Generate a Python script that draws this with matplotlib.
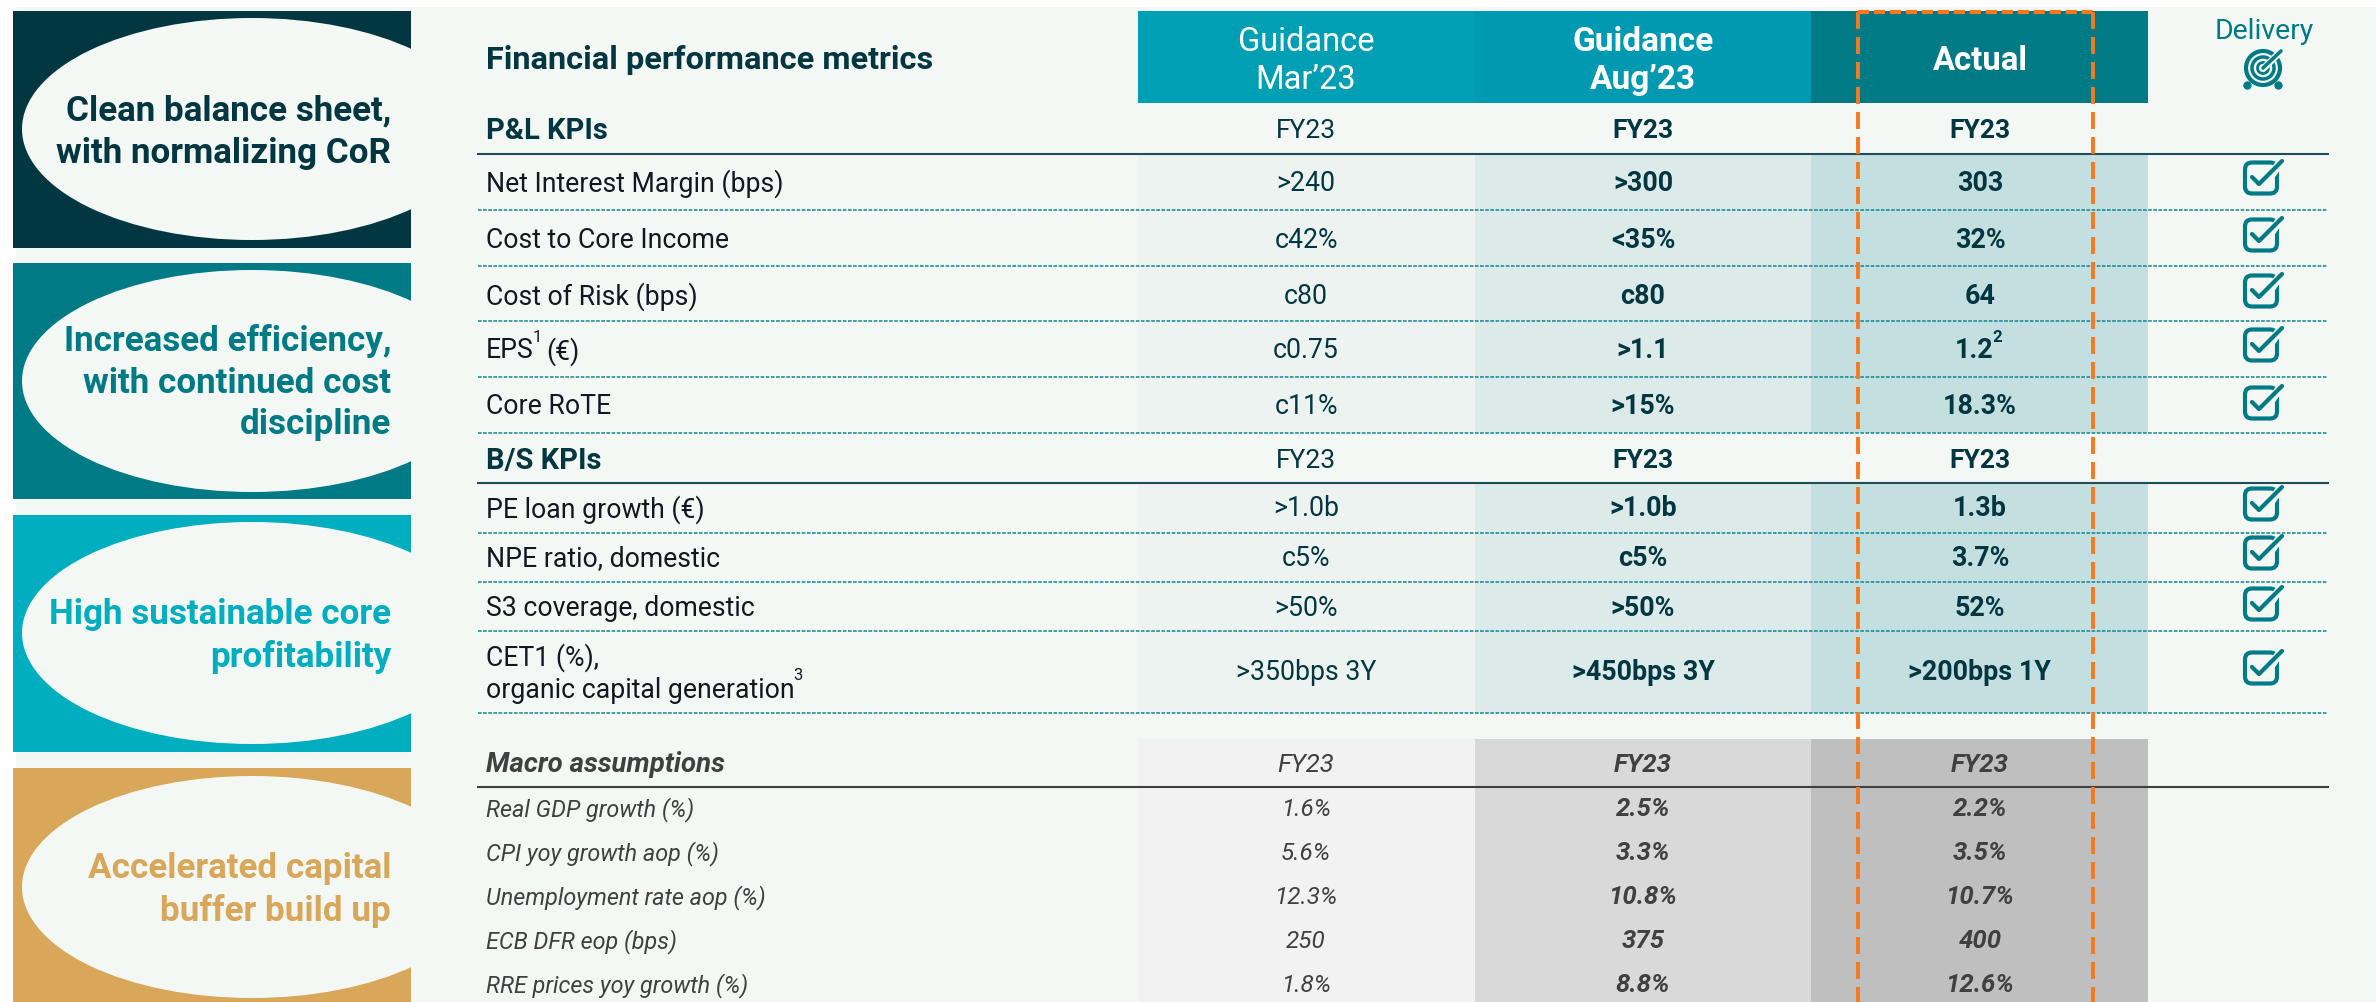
import matplotlib
matplotlib.use("Agg")
import matplotlib.pyplot as plt
from matplotlib.patches import Rectangle, Ellipse, FancyBboxPatch, Circle

plt.rcParams["font.family"] = ["Roboto", "DejaVu Sans"]
plt.rcParams["lines.scale_dashes"] = False

# Left hand panels
panel_titles = [
    ["Clean balance sheet,", "with normalizing CoR"],
    ["Increased efficiency,", "with continued cost", "discipline"],
    ["High sustainable core", "profitability"],
    ["Accelerated capital", "buffer build up"],
]
panel_colors = ["#023641", "#007A85", "#00AEBF", "#D9A75A"]
panel_top = [11, 263, 515, 768]
panel_bottom = [248, 499, 752, 1002]
ellipse_y = [129, 381, 633, 887]
title_y = [[107, 150], [338, 380, 421], [611, 653], [865, 907]]

# KPI table
kpi_labels = ["Net Interest Margin (bps)", "Cost to Core Income", "Cost of Risk (bps)", "EPS", "Core RoTE",
              "PE loan growth (€)", "NPE ratio, domestic", "S3 coverage, domestic"]
kpi_mar = [">240", "c42%", "c80", "c0.75", "c11%", ">1.0b", "c5%", ">50%", ">350bps 3Y"]
kpi_aug = [">300", "<35%", "c80", ">1.1", ">15%", ">1.0b", "c5%", ">50%", ">450bps 3Y"]
kpi_act = ["303", "32%", "64", "1.2", "18.3%", "1.3b", "3.7%", "52%", ">200bps 1Y"]
kpi_y = [180, 237, 293, 348, 404, 506, 556, 605, 669]
check_y = [178, 235, 291, 345, 403, 504, 553, 604, 668]

# Macro table
macro_labels = ["Real GDP growth (%)", "CPI yoy growth aop (%)", "Unemployment rate aop (%)",
                "ECB DFR eop (bps)", "RRE prices yoy growth (%)"]
macro_mar = ["1.6%", "5.6%", "12.3%", "250", "1.8%"]
macro_aug = ["2.5%", "3.3%", "10.8%", "375", "8.8%"]
macro_act = ["2.2%", "3.5%", "10.7%", "400", "12.6%"]
macro_y = [807, 851, 895, 939, 983]

dark = "#023641"
teal = "#007A85"
grey = "#404040"
label_col = "#101820"
bg = "#F4F8F5"
x_mar, x_aug, x_act = 1306, 1643, 1980
edges = [1138, 1475, 1811, 2148]

fig = plt.figure(figsize=(23.76, 10.02), dpi=100)
ax = fig.add_axes([0, 0, 1, 1])
ax.set_xlim(0, 2376)
ax.set_ylim(1002, 0)
ax.axis("off")


def box(x0, y0, x1, y1, color, z=1):
    ax.add_patch(Rectangle((x0, y0), x1 - x0, y1 - y0, fc=color, ec="none", zorder=z))


def txt(x, y, s, size=19, color=dark, ha="center", **kw):
    return ax.text(x, y, s, fontsize=size, color=color, ha=ha, va="center_baseline", zorder=6, **kw)


def right_of(t):
    fig.canvas.draw()
    return t.get_window_extent().transformed(ax.transData.inverted()).x1


def sup(t, s, dy=-11, size=12, color=dark, **kw):
    # small superscript placed right after an existing text
    ax.text(right_of(t) - 1, t.get_position()[1] + dy, s, fontsize=size, color=color,
            ha="left", va="center", zorder=6, **kw)


box(16, 7, 2376, 1002, bg, 0)

# panels
for i in range(4):
    box(13, panel_top[i], 411, panel_bottom[i], panel_colors[i], 1)
    e = Ellipse((252, ellipse_y[i]), 460, 222, fc=bg, ec="none", zorder=2)
    ax.add_patch(e)
    e.set_clip_path(Rectangle((13, panel_top[i]), 398, panel_bottom[i] - panel_top[i], transform=ax.transData))
    color = dark if i == 0 else panel_colors[i]
    for s, y in zip(panel_titles[i], title_y[i]):
        txt(391, y, s, 25.2, color, ha="right", fontweight="bold")

# headers
box(edges[0], 11, edges[1], 103, "#009FB3")
box(edges[1], 11, edges[2], 103, "#0099B2")
box(edges[2], 11, edges[3], 103, teal)
txt(486, 57, "Financial performance metrics", 23.4, ha="left", fontweight="bold")
txt(x_mar, 38, "Guidance", 23.5, "white")
txt(x_mar, 76, "Mar’23", 23.5, "white")
txt(x_aug, 38, "Guidance", 24, "white", fontweight="bold")
txt(x_aug, 76, "Aug’23", 24, "white", fontweight="bold")
txt(x_act, 57, "Actual", 23.7, "white", fontweight="bold")
txt(2264, 28, "Delivery", 20.5, teal)

# column shading
for y0, y1 in [(154, 433), (483, 713)]:
    box(edges[0], y0, edges[1], y1, "#EDF3F0")
    box(edges[1], y0, edges[2], y1, "#DCEAE9")
    box(edges[2], y0, edges[3], y1, "#C4DFE0")
box(edges[0], 739, edges[1], 1002, "#F2F2F2")
box(edges[1], 739, edges[2], 1002, "#D9D9D9")
box(edges[2], 739, edges[3], 1002, "#BFBFBF")

# rules
for y in [154, 483]:
    ax.plot([478, 2328], [y, y], color="#1F4E5A", lw=1.5, zorder=4)
ax.plot([478, 2328], [787, 787], color=grey, lw=1.5, zorder=4)
for y in [210, 266, 321, 377, 433, 533, 582, 631, 713]:
    ax.plot([478, 2328], [y, y], color="#0F8590", lw=1.1, ls=(0, (2.6, 1.1)), zorder=4)

# section rows
for y, s in [(128, "P&L KPIs"), (458, "B/S KPIs")]:
    txt(486, y, s, 21, ha="left", fontweight="bold")
    txt(x_mar, y, "FY23", 19)
    txt(x_aug, y, "FY23", 19, fontweight="bold")
    txt(x_act, y, "FY23", 19, fontweight="bold")

# KPI rows
for s, y in zip(kpi_labels, kpi_y):
    t = txt(486, y, s, 19.2, label_col, ha="left")
    if s == "EPS":
        sup(t, "1", color=label_col)
        txt(right_of(t) + 13, y, "(€)", 19.2, label_col, ha="left")
txt(486, 654, "CET1 (%),", 19.2, label_col, ha="left")
t = txt(486, 687, "organic capital generation", 19.2, label_col, ha="left")
sup(t, "3", color=label_col)

for i, y in enumerate(kpi_y):
    txt(x_mar, y, kpi_mar[i], 19.2)
    txt(x_aug, y, kpi_aug[i], 19.4, fontweight="bold")
    if kpi_act[i] == "1.2":
        t = txt(x_act - 6, y, kpi_act[i], 19.4, fontweight="bold")
        sup(t, "2", fontweight="bold")
    else:
        txt(x_act, y, kpi_act[i], 19.4, fontweight="bold")

# macro rows
txt(486, 762, "Macro assumptions", 19.9, grey, ha="left", fontweight="bold", style="italic")
txt(x_mar, 763, "FY23", 18.5, grey, style="italic")
txt(x_aug, 763, "FY23", 18.5, grey, fontweight="bold", style="italic")
txt(x_act, 763, "FY23", 18.5, grey, fontweight="bold", style="italic")
for i, y in enumerate(macro_y):
    txt(486, y, macro_labels[i], 16.8, grey, ha="left", style="italic")
    txt(x_mar, y, macro_mar[i], 17.5, grey, style="italic")
    txt(x_aug, y, macro_aug[i], 18.5, grey, fontweight="bold", style="italic")
    txt(x_act, y, macro_act[i], 18.5, grey, fontweight="bold", style="italic")

# delivery check boxes
for y in check_y:
    ax.add_patch(FancyBboxPatch((2245, y - 15.5), 32, 31, boxstyle="round,pad=0,rounding_size=7",
                                fc="none", ec=teal, lw=3, zorder=3))
    ax.plot([2265, 2282], [y + 6, y - 18], color=bg, lw=6, zorder=3.5)
    ax.plot([2252, 2259, 2282], [y - 1, y + 6, y - 17], color=teal, lw=3, zorder=5, solid_capstyle="round")

# target icon
for r, lw in [(17, 3), (11, 2.5), (5.5, 2)]:
    ax.add_patch(Circle((2263, 68), r, fc="none", ec=teal, lw=lw, zorder=5))
ax.plot([2267, 2281], [65, 51], color=bg, lw=5, zorder=5)
ax.plot([2263, 2281], [68, 51], color=teal, lw=2.5, zorder=5, solid_capstyle="round")
ax.plot([2247, 2278], [85, 85], ls="none", marker="o", ms=5, color=teal, zorder=5)

# orange highlight box
orange = "#F57A1F"
vdash = (0, (12.2, 5.8))
ax.plot([1858, 1858], [12, 1002], color=orange, lw=2.8, ls=vdash, zorder=7)
ax.plot([2093, 2093], [12, 1002], color=orange, lw=2.8, ls=vdash, zorder=7)
ax.plot([1858, 2093], [12, 12], color=orange, lw=3, ls=(0, (8, 3.5)), zorder=7)

fig.savefig("out.png", dpi=100)
